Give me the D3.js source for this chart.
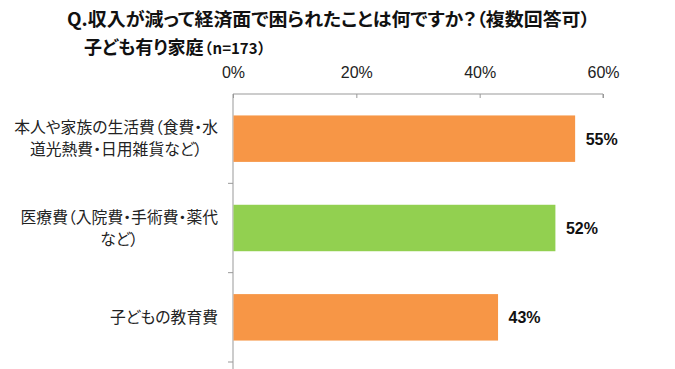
<!DOCTYPE html>
<html>
<head>
<meta charset="utf-8">
<script src="https://cdn.jsdelivr.net/npm/d3@7"></script>
<style>
  body { margin: 0; background: #fff; }
  text { font-feature-settings: "palt"; }
</style>
</head>
<body>
<div id="chart"></div>
<script>
// data
const categories = [
    ["本人や家族の生活費（食費・水", "道光熱費・日用雑貨など）"],
    ["医療費（入院費・手術費・薬代", "など）"],
    ["子どもの教育費"]
];
const values = [55.4, 52.2, 42.9];
const barColors = ["#F79646", "#92D050", "#F79646"];
const xTicks = [0, 20, 40, 60];
const titleText = "Q.収入が減って経済面で困られたことは何ですか？（複数回答可）";
const subTitle = "子ども有り家庭";
const subNote = "（n=173）";

const width = 675;
const height = 369;
const jp = "'Noto Sans CJK JP', 'Noto Sans', sans-serif";
const latin = "'Liberation Sans', Arial, sans-serif";

const svg = d3.select("#chart")
    .append("svg")
    .attr("width", width)
    .attr("height", height);

const x = d3.scaleLinear()
    .domain([0, 60])
    .range([233, 603]);

const y = d3.scaleBand()
    .domain(d3.range(categories.length))
    .range([94, 362])
    .paddingInner(0.48)
    .paddingOuter(0.24);

// Title
svg.append("text")
    .attr("x", 67)
    .attr("y", 26)
    .attr("textLength", 523)
    .attr("lengthAdjust", "spacingAndGlyphs")
    .style("font-family", jp)
    .style("font-weight", "bold")
    .style("font-size", "18px")
    .attr("fill", "#111")
    .text(titleText);

const sub = svg.append("text")
    .attr("x", 84)
    .attr("y", 54)
    .style("font-family", jp)
    .style("font-weight", "bold")
    .attr("fill", "#111");
sub.append("tspan").style("font-size", "18px").text(subTitle);
sub.append("tspan").style("font-size", "15px")
    .attr("dx", -6)
    .style("font-feature-settings", "normal")
    .text(subNote);

// Top axis
const axisTop = svg.append("g")
    .attr("transform", "translate(0,94)")
    .call(d3.axisTop(x).tickValues(xTicks).tickSize(-4).tickPadding(16).tickFormat(d => d + "%"));
axisTop.select(".domain").attr("stroke", "#999")
    .attr("d", `M${x(0)},0H${x(60)}V4`);
axisTop.selectAll(".tick line").attr("stroke", "#999");
axisTop.selectAll(".tick text")
    .style("font-family", latin)
    .style("font-size", "16px")
    .attr("fill", "#222");

// Left category axis line with boundary ticks
svg.append("line")
    .attr("x1", x(0)).attr("x2", x(0))
    .attr("y1", 94).attr("y2", height)
    .attr("stroke", "#999");
const step = y.step();
svg.selectAll(".cat-tick")
    .data(d3.range(1, categories.length + 1))
    .join("line")
    .attr("class", "cat-tick")
    .attr("x1", x(0) - 5).attr("x2", x(0))
    .attr("y1", i => y.range()[0] + i * step)
    .attr("y2", i => y.range()[0] + i * step)
    .attr("stroke", "#999");

// Bars
svg.selectAll(".bar")
    .data(values)
    .join("rect")
    .attr("class", "bar")
    .attr("x", x(0) + 0.5)
    .attr("y", (d, i) => y(i))
    .attr("width", d => x(d) - x(0))
    .attr("height", y.bandwidth())
    .attr("fill", (d, i) => barColors[i]);

// Value labels
svg.selectAll(".val")
    .data(values)
    .join("text")
    .attr("class", "val")
    .attr("x", d => x(d) + 11)
    .attr("y", (d, i) => y(i) + y.bandwidth() / 2 + 6)
    .style("font-family", latin)
    .style("font-weight", "bold")
    .style("font-size", "16px")
    .attr("fill", "#111")
    .text(d => Math.round(d) + "%");

// Category labels: block right-aligned, lines centred in block
const labelRight = 218;
const lineH = 22;
categories.forEach((lines, i) => {
    const g = svg.append("g");
    const cy = y(i) + y.bandwidth() / 2;
    const texts = lines.map((ln, j) => g.append("text")
        .attr("y", cy + (j - (lines.length - 1) / 2) * lineH + 5.5)
        .attr("text-anchor", "middle")
        .style("font-family", jp)
        .style("font-size", "15.8px")
        .attr("fill", "#222")
        .text(ln));
    const w = d3.max(texts, t => t.node().getComputedTextLength());
    texts.forEach(t => t.attr("x", labelRight - w / 2));
});
</script>
</body>
</html>
